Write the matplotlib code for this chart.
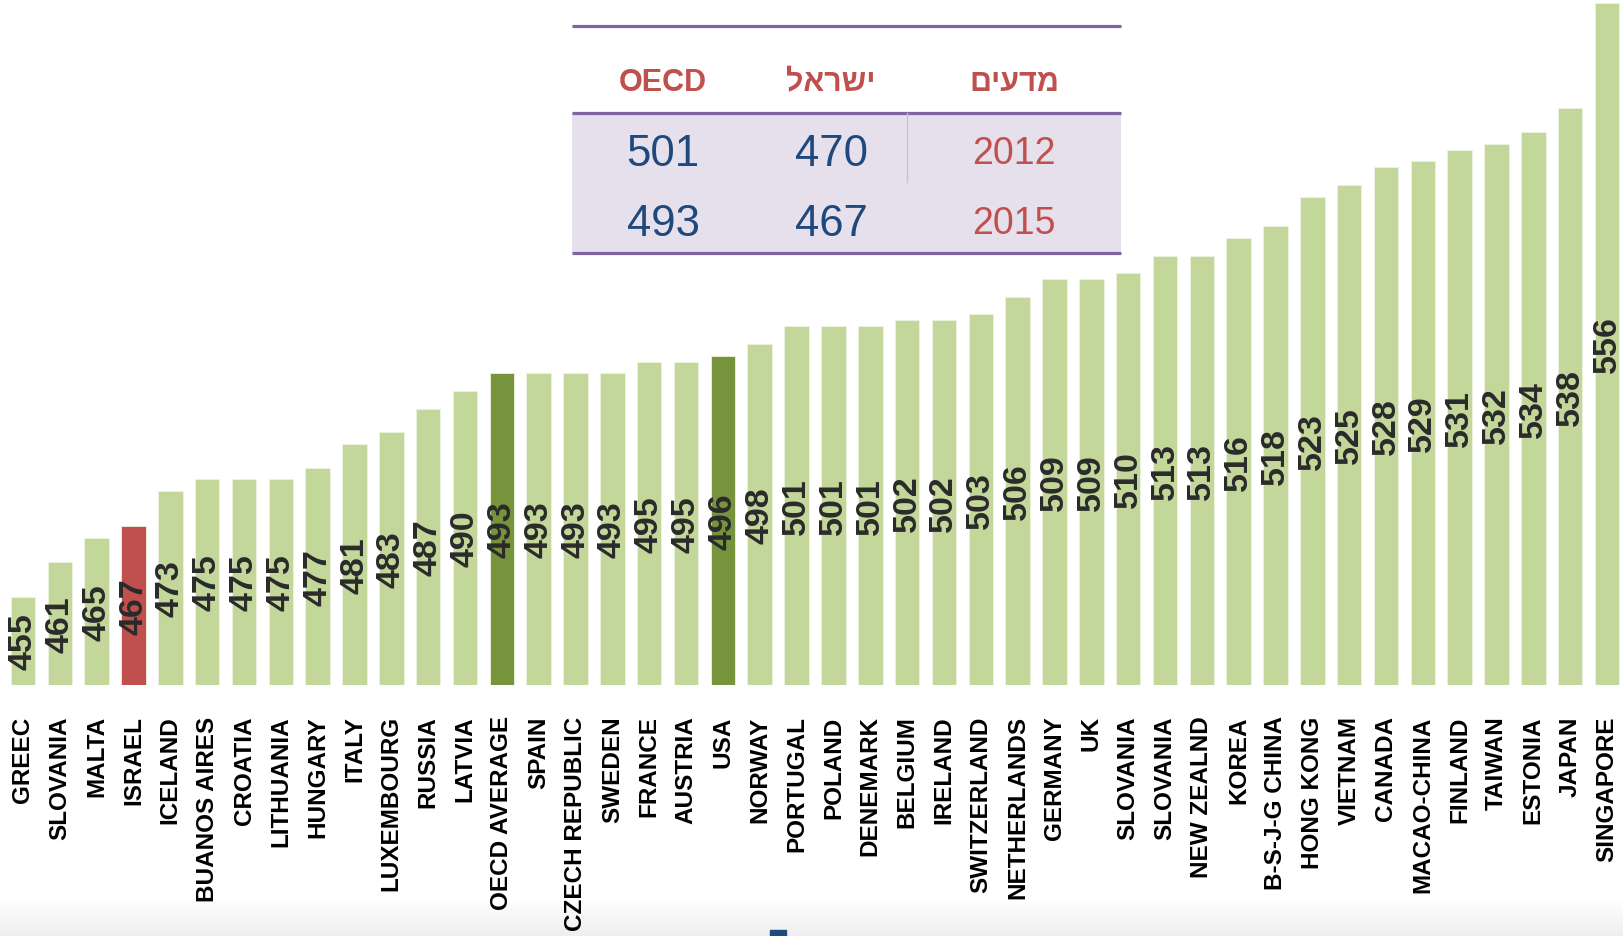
import numpy as np
import matplotlib
matplotlib.use("Agg")
import matplotlib.pyplot as plt
from matplotlib.patches import Rectangle

plt.rcParams["font.family"] = ["Liberation Sans", "DejaVu Sans"]

COUNTRIES = ["GREEC", "SLOVANIA", "MALTA", "ISRAEL", "ICELAND", "BUANOS AIRES",
             "CROATIA", "LITHUANIA", "HUNGARY", "ITALY", "LUXEMBOURG", "RUSSIA",
             "LATVIA", "OECD AVERAGE", "SPAIN", "CZECH REPUBLIC", "SWEDEN", "FRANCE",
             "AUSTRIA", "USA", "NORWAY", "PORTUGAL", "POLAND", "DENEMARK", "BELGIUM",
             "IRELAND", "SWITZERLAND", "NETHERLANDS", "GERMANY", "UK", "SLOVANIA",
             "SLOVANIA", "NEW ZEALND", "KOREA", "B-S-J-G CHINA", "HONG KONG",
             "VIETNAM", "CANADA", "MACAO-CHINA", "FINLAND", "TAIWAN", "ESTONIA",
             "JAPAN", "SINGAPORE"]
SCORES = [455, 461, 465, 467, 473, 475, 475, 475, 477, 481, 483, 487, 490, 493,
          493, 493, 493, 495, 495, 496, 498, 501, 501, 501, 502, 502, 503, 506,
          509, 509, 510, 513, 513, 516, 518, 523, 525, 528, 529, 531, 532, 534,
          538, 556]
HIGHLIGHT_RED = ["ISRAEL"]
HIGHLIGHT_DARK = ["OECD AVERAGE", "USA"]

# inset table (Hebrew headers written in visual order, matplotlib has no bidi)
TABLE_HEADERS = ["OECD", "ישראל"[::-1], "מדעים"[::-1]]
TABLE_YEARS = ["2012", "2015"]
TABLE_OECD = [501, 493]
TABLE_ISRAEL = [470, 467]

Y_MIN, Y_MAX = 440.1, 556.6
W, H = 1623, 937

GREEN = "#C4D79B"
DARK_GREEN = "#77933C"
RED = "#C0504D"
PURPLE = "#8064A2"
BLUE = "#1F497D"


def pixel_axes(fig, zorder):
    a = fig.add_axes([0, 0, 1, 1], zorder=zorder)
    a.set_xlim(0, W)
    a.set_ylim(H, 0)
    a.axis("off")
    a.patch.set_alpha(0)
    return a


def main():
    fig = plt.figure(figsize=(W / 100, H / 100), dpi=100)

    # page background: faint grey fade at the bottom edge
    bg = pixel_axes(fig, 0)
    grad = np.linspace(1.0, 0.935, 40)[:, None] * np.ones((40, 2))
    bg.imshow(np.dstack([grad, grad, grad]), extent=(0, W, H, 900), aspect="auto")
    bg.set_xlim(0, W)
    bg.set_ylim(H, 0)
    bg.add_patch(Rectangle((770, 931), 16, 6, color=BLUE))

    base = 685.7
    ax = fig.add_axes([0, (H - base) / H, 1, base / H], zorder=1)
    ax.patch.set_alpha(0)
    x = np.arange(len(SCORES))
    colors = [RED if c in HIGHLIGHT_RED else DARK_GREEN if c in HIGHLIGHT_DARK else GREEN
              for c in COUNTRIES]
    ax.bar(x, np.array(SCORES) - Y_MIN, bottom=Y_MIN, width=0.665, color=colors,
           edgecolor="#eef3e0", linewidth=0.6)
    for xi, v in zip(x, SCORES):
        ax.text(xi, (Y_MIN + v) / 2, str(v), rotation=90, ha="center", va="center",
                fontsize=24.5, fontweight="bold", color="#2a2a2a")
    ax.set_xlim(-23 / 36.84, 43 + 16 / 36.84)
    ax.set_ylim(Y_MIN, Y_MAX)
    ax.set_xticks(x)
    ax.set_xticklabels(COUNTRIES, rotation=90, fontsize=17.5, fontweight="bold",
                       va="top", ha="center")
    ax.tick_params(axis="x", length=0, pad=22)
    ax.set_yticks([])
    for s in ax.spines.values():
        s.set_visible(False)

    # inset summary table, drawn in pixel coordinates
    ov = pixel_axes(fig, 5)
    left, right = 572, 1121
    ov.add_patch(Rectangle((left, 114), right - left, 140, facecolor="#E5E0EC",
                           edgecolor="none", zorder=1))
    for yl in (27, 114, 254):
        ov.plot([left, right], [yl, yl], color=PURPLE, lw=2.3, zorder=2,
                solid_capstyle="butt")
    ov.plot([907, 907], [114, 183], color="#c9c1d8", lw=1, zorder=2)

    col_x = [663, 831, 1014]
    for cx, head in zip(col_x, TABLE_HEADERS):
        ov.text(cx, 83, head, ha="center", va="center", fontsize=22,
                fontweight="bold", color=RED, zorder=3)
    for ry, year, o, isr in zip([154, 224], TABLE_YEARS, TABLE_OECD, TABLE_ISRAEL):
        ov.text(col_x[0], ry, str(o), ha="center", va="center", fontsize=31.5,
                color=BLUE, zorder=3)
        ov.text(col_x[1], ry, str(isr), ha="center", va="center", fontsize=31.5,
                color=BLUE, zorder=3)
        ov.text(col_x[2], ry, year, ha="center", va="center", fontsize=27,
                color=RED, zorder=3)

    fig.savefig("out.png", dpi=100)
    plt.close(fig)


if __name__ == "__main__":
    main()
